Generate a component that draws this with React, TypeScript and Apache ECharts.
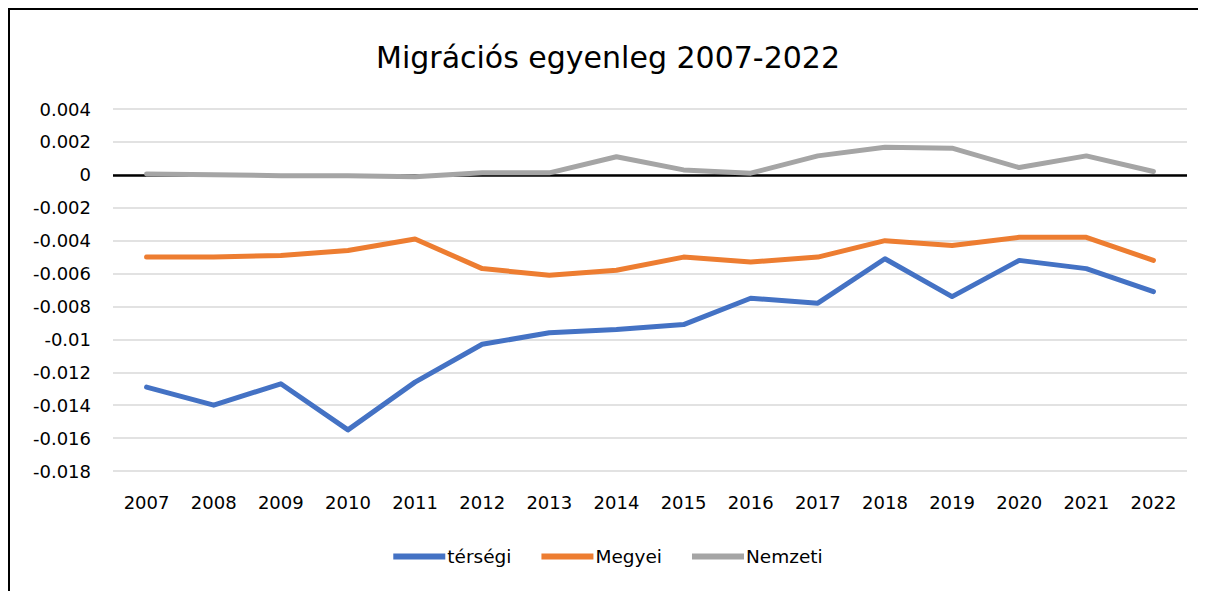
import React, { useEffect, useRef } from "react";
import * as echarts from "echarts";

const years = ["2007","2008","2009","2010","2011","2012","2013","2014","2015","2016","2017","2018","2019","2020","2021","2022"];
const tersegi = [-0.0129, -0.0140, -0.0127, -0.0155, -0.0126, -0.0103, -0.0096, -0.0094, -0.0091, -0.0075, -0.0078, -0.0051, -0.0074, -0.0052, -0.0057, -0.0071];
const megyei = [-0.0050, -0.0050, -0.0049, -0.0046, -0.0039, -0.0057, -0.0061, -0.0058, -0.0050, -0.0053, -0.0050, -0.0040, -0.0043, -0.0038, -0.0038, -0.0052];
const nemzeti = [0.00005, 0.0, -0.00005, -0.00005, -0.00012, 0.00012, 0.00012, 0.0011, 0.0003, 0.0001, 0.00115, 0.00168, 0.00162, 0.00044, 0.00115, 0.0002];

const FONT = "DejaVu Sans";

export default function App() {
  const ref = useRef<HTMLDivElement>(null);
  useEffect(() => {
    if (!ref.current) return;
    const chart = echarts.init(ref.current, null, { renderer: "svg" });
    const mk = (name: string, data: number[], color: string) => ({
      name,
      type: "line",
      data,
      symbol: "none",
      lineStyle: { width: 5, color, cap: "round", join: "round" },
      itemStyle: { color },
      z: 3,
    });
    chart.setOption({
      animation: false,
      title: {
        text: "Migrációs egyenleg 2007-2022",
        left: "center",
        top: 27,
        textStyle: { fontFamily: FONT, fontSize: 30, fontWeight: "normal", color: "#000" },
      },
      grid: { left: 103, right: 19, top: 99, bottom: 120, containLabel: false },
      xAxis: {
        type: "category",
        data: years,
        boundaryGap: true,
        axisLine: { show: false },
        axisTick: { show: false },
        axisLabel: { fontFamily: FONT, fontSize: 18, color: "#000", margin: 22 },
      },
      yAxis: {
        type: "value",
        min: -0.018,
        max: 0.004,
        interval: 0.002,
        axisLine: { show: false },
        axisTick: { show: false },
        axisLabel: {
          fontFamily: FONT,
          fontSize: 18,
          color: "#000",
          margin: 22,
          formatter: (v: number) => {
            const r = Math.round(v * 1000) / 1000;
            if (r === 0) return "0";
            return String(r);
          },
        },
        splitLine: { lineStyle: { color: "#d9d9d9", width: 1.5 } },
      },
      legend: {
        bottom: 20,
        left: "center",
        itemWidth: 52,
        itemHeight: 6,
        itemGap: 30,
        icon: "rect",
        textStyle: { fontFamily: FONT, fontSize: 18.5, color: "#000", padding: [0, 0, 0, -3] },
        data: ["térségi", "Megyei", "Nemzeti"],
      },
      series: [
        mk("térségi", tersegi, "#4472C4"),
        mk("Megyei", megyei, "#ED7D31"),
        {
          ...mk("Nemzeti", nemzeti, "#A5A5A5"),
          markLine: {
            silent: true,
            symbol: "none",
            label: { show: false },
            lineStyle: { color: "#000", width: 2.5, type: "solid" },
            data: [{ yAxis: 0 }],
            z: 2,
          },
        },
      ],
    });
    return () => chart.dispose();
  }, []);
  return (
    <div
      style={{
        width: 1198,
        height: 583,
        boxSizing: "border-box",
        borderLeft: "2px solid #000",
        borderTop: "2px solid #000",
        background: "#fff",
      }}
    >
      <div ref={ref} style={{ width: 1196, height: 581 }} />
    </div>
  );
}
